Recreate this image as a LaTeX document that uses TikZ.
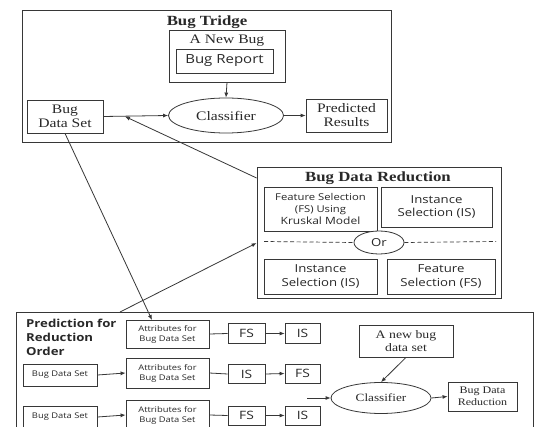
\documentclass[tikz,border=0pt]{standalone}
\usepackage{fontspec}
\setmainfont{Liberation Serif}[FakeStretch=1.2]
\setsansfont{Open Sans}[FakeStretch=1.2]
\usetikzlibrary{arrows.meta,shapes.geometric}
\definecolor{lc}{RGB}{55,55,55}
\definecolor{tc}{RGB}{40,40,40}
\newcommand{\fs}[2]{\fontsize{#1}{#2}\selectfont}
\begin{document}
\begin{tikzpicture}[x=1pt,y=-1pt,
  bx/.style={draw=lc, line width=0.8pt, inner sep=0pt, align=center, fill=white, text=tc},
  ell/.style={ellipse, draw=lc, line width=0.8pt, inner sep=0pt, align=center, fill=white, text=tc},
  frame/.style={draw=lc, line width=0.8pt, inner sep=0pt},
  lbl/.style={inner sep=0pt, align=center, text=tc},
  arr/.style={draw=lc, line width=0.8pt, -{Latex[length=5pt,width=4pt]}},
  ln/.style={draw=lc, line width=0.8pt}]
\useasboundingbox (0,0) rectangle (535,427);
\clip (0,0) rectangle (535,427);
\fill[white] (0,0) rectangle (535,427);

% ---------- Bug Tridge ----------
\node[frame, minimum width=369, minimum height=132] (tridge) at (206.5,76) {};
\node[lbl, font=\bfseries\fs{14}{16}] (tridgeT) at (207,22) {Bug Tridge};
\node[bx, minimum width=116, minimum height=52] (newbug) at (227,56) {};
\node[lbl, font=\fs{13}{15}] (newbugT) at (227,41) {A New Bug};
\node[bx, minimum width=97, minimum height=24, font=\sffamily\fs{12.5}{14}] (report) at (224.5,61) {Bug Report};
\node[ell, minimum width=115, minimum height=35, font=\fs{13}{15}] (cls) at (226,115.5) {Classifier};
\node[bx, minimum width=76, minimum height=33, font=\fs{13}{14}] (bds) at (65,116.5) {Bug\\Data Set};
\node[bx, minimum width=81, minimum height=33, font=\fs{13}{14}] (pred) at (346.5,115.5) {Predicted\\Results};

% ---------- Bug Data Reduction ----------
\node[frame, minimum width=244, minimum height=131] (bdr) at (379,232.5) {};
\node[lbl, font=\bfseries\fs{14}{16}] (bdrT) at (378,178) {Bug Data Reduction};
\node[bx, minimum width=113, minimum height=44, font=\sffamily] (fsk) at (320.5,209)
  {{\fs{9.4}{11.5}Feature Selection}\\{\fs{9.4}{11.5}(FS) Using}\\{\fs{10}{12}Kruskal Model}};
\node[bx, minimum width=111, minimum height=40, font=\sffamily\fs{11}{13.5}] (is1) at (436.5,207) {Instance\\Selection (IS)};
\node[ell, minimum width=50, minimum height=23, font=\sffamily\fs{11}{13}] (or) at (379,242.5) {Or};
\coordinate (dl) at (264,241.5);
\coordinate (dr) at (496,241.5);
\draw[lc, line width=0.7pt, dash pattern=on 4pt off 2.5pt] (dl) -- (or.west);
\draw[lc, line width=0.7pt, dash pattern=on 4pt off 2.5pt] (or.east) -- (dr);
\node[bx, minimum width=113, minimum height=35, font=\sffamily\fs{11}{13.5}] (is2) at (320.5,276.5) {Instance\\Selection (IS)};
\node[bx, minimum width=108, minimum height=35, font=\sffamily\fs{11}{13.5}] (fs2) at (441,276.5) {Feature\\Selection (FS)};

% ---------- Prediction for Reduction Order ----------
\node[frame, minimum width=517, minimum height=130] (predbox) at (274.5,377) {};
\node[lbl, anchor=north west, align=left, font=\sffamily\bfseries\fs{11}{14}] (predT) at (26,318.5) {Prediction for\\Reduction\\Order};

\node[bx, minimum width=83, minimum height=28, font=\sffamily\fs{7.8}{10}] (at1) at (167.5,334) {Attributes for\\Bug Data Set};
\node[bx, minimum width=37, minimum height=20, font=\sffamily\fs{11.5}{13}] (fa1) at (246.5,333.5) {FS};
\node[bx, minimum width=35, minimum height=20, font=\sffamily\fs{11.5}{13}] (fb1) at (302.5,333.5) {IS};

\node[bx, minimum width=74, minimum height=22, font=\sffamily\fs{7.8}{10}] (bd2) at (60,375) {Bug Data Set};
\node[bx, minimum width=83, minimum height=30, font=\sffamily\fs{7.8}{10}] (at2) at (167.5,373) {Attributes for\\Bug Data Set};
\node[bx, minimum width=37, minimum height=19, font=\sffamily\fs{11.5}{13}] (fa2) at (246.5,374) {IS};
\node[bx, minimum width=35, minimum height=19, font=\sffamily\fs{11.5}{13}] (fb2) at (302.5,373.5) {FS};

\node[bx, minimum width=74, minimum height=22, font=\sffamily\fs{7.8}{10}] (bd3) at (60,417) {Bug Data Set};
\node[bx, minimum width=83, minimum height=30, font=\sffamily\fs{7.8}{10}] (at3) at (167.5,415) {Attributes for\\Bug Data Set};
\node[bx, minimum width=37, minimum height=19, font=\sffamily\fs{11.5}{13}] (fa3) at (246.5,415.5) {FS};
\node[bx, minimum width=35, minimum height=19, font=\sffamily\fs{11.5}{13}] (fb3) at (302.5,415.5) {IS};

\node[bx, minimum width=94, minimum height=32, font=\fs{11.5}{13}] (newbug2) at (406,341) {A new bug\\data set};
\node[ell, minimum width=100, minimum height=31, font=\fs{11}{13}] (cls2) at (381,398) {Classifier};
\node[bx, minimum width=69, minimum height=29, font=\fs{10}{11.5}] (bdr2) at (482.5,396.5) {Bug Data\\Reduction};

% ---------- connectors ----------
\draw[arr] (bds.east) -- (cls.west);
\draw[arr] (newbug.south) -- (cls.north);
\draw[arr] (cls.east) -- (pred.west);
\coordinate (hit) at (125,116.5);
\draw[arr] (bdr.west |- 0,178) -- (hit);
\coordinate (attop) at (152,320);
\draw[arr] (bds.south) -- (attop);
\coordinate (pstart) at (120,312);
\draw[arr] (pstart) -- (bdr.west |- 0,243);

\draw[ln] (at1.east) -- (fa1.west);
\draw[arr] (fa1.east) -- (fb1.west);
\draw[arr] (bd2.east) -- (at2.west);
\draw[ln] (at2.east) -- (fa2.west);
\draw[arr] (fa2.east) -- (fb2.west);
\draw[arr] (bd3.east) -- (at3.west);
\draw[ln] (at3.east) -- (fa3.west);
\draw[arr] (fa3.east) -- (fb3.west);

\coordinate (cin) at (307,398);
\draw[arr] (cin) -- (cls2.west);
\draw[arr] (newbug2.south) -- (cls2.north);
\draw[arr] (cls2.east) -- (bdr2.west);
\end{tikzpicture}
\end{document}
